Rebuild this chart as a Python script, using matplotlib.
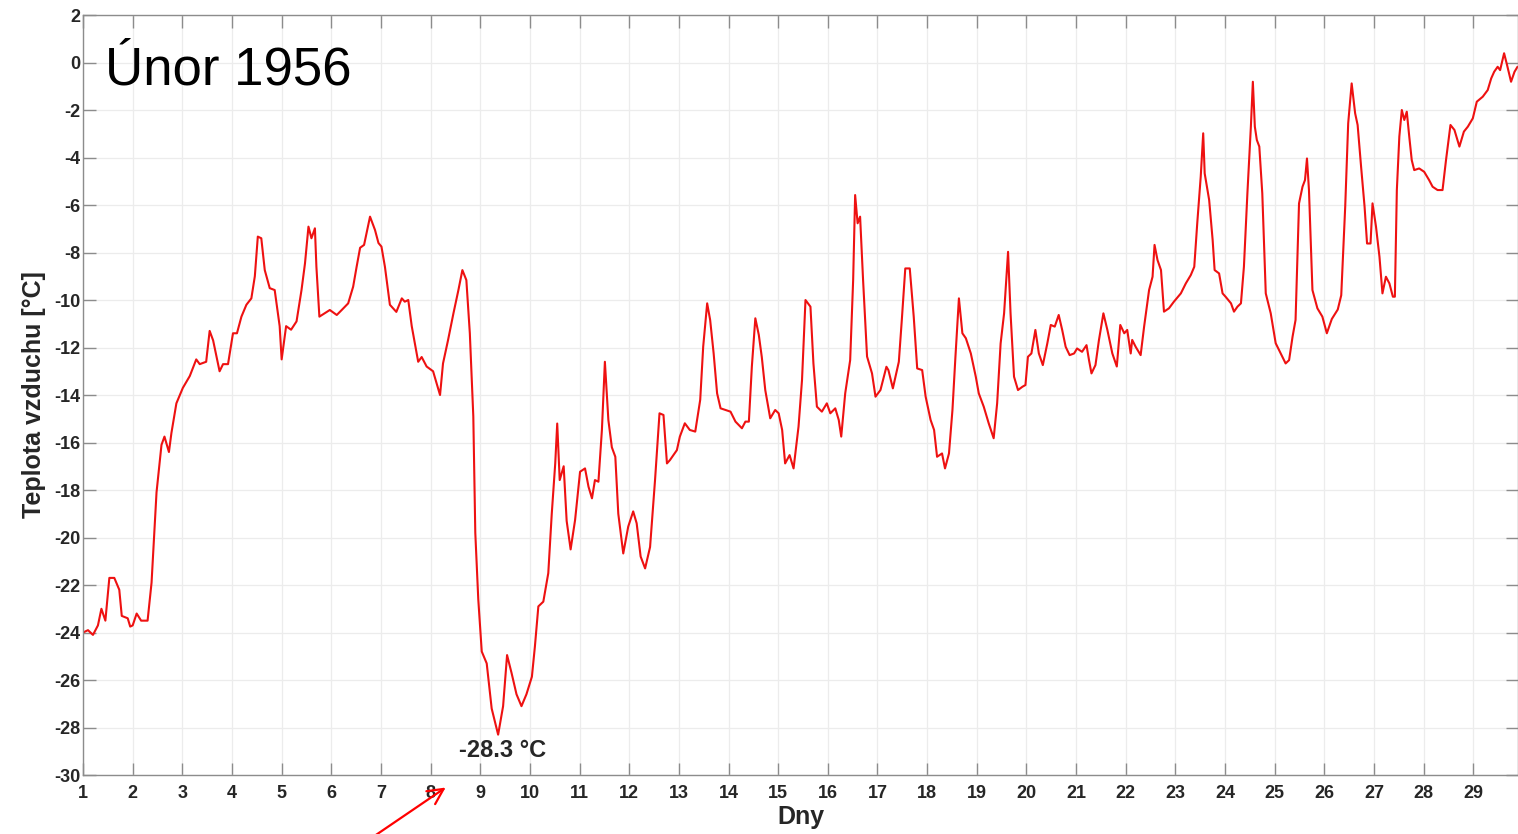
import matplotlib
matplotlib.use("Agg")
import matplotlib.pyplot as plt
import numpy as np

plt.rcParams["font.family"] = ["Liberation Sans", "DejaVu Sans"]
plt.rcParams["axes.unicode_minus"] = False

# hourly-ish trace (day of month, air temperature in degC)
day = [
    1.00, 1.10, 1.20, 1.30, 1.37, 1.45, 1.53, 1.63, 1.73, 1.78, 1.90, 1.95, 2.00, 2.08, 2.17, 2.30,
    2.38, 2.48, 2.58, 2.64, 2.73, 2.78, 2.88, 3.01, 3.15, 3.28, 3.35, 3.48, 3.55, 3.62, 3.75, 3.82,
    3.92, 4.02, 4.10, 4.19, 4.29, 4.39, 4.46, 4.52, 4.59, 4.66, 4.76, 4.86, 4.96, 5.00, 5.09, 5.19,
    5.30, 5.40, 5.47, 5.54, 5.60, 5.67, 5.70, 5.76, 5.97, 6.11, 6.21, 6.34, 6.44, 6.51, 6.58, 6.66,
    6.78, 6.88, 6.95, 7.01, 7.08, 7.18, 7.31, 7.42, 7.48, 7.55, 7.62, 7.75, 7.82, 7.92, 8.05, 8.12,
    8.19, 8.25, 8.35, 8.46, 8.56, 8.64, 8.72, 8.79, 8.86, 8.90, 8.96, 9.03, 9.13, 9.23, 9.36, 9.46,
    9.54, 9.63, 9.73, 9.83, 9.93, 10.04, 10.10, 10.17, 10.27, 10.37, 10.44, 10.51, 10.55, 10.60, 10.68, 10.74,
    10.82, 10.91, 11.01, 11.11, 11.18, 11.25, 11.31, 11.38, 11.45, 11.51, 11.58, 11.65, 11.72, 11.78, 11.88, 11.98,
    12.08, 12.15, 12.23, 12.32, 12.42, 12.52, 12.61, 12.69, 12.76, 12.82, 12.96, 13.02, 13.12, 13.22, 13.33, 13.43,
    13.49, 13.57, 13.63, 13.70, 13.77, 13.84, 13.94, 14.04, 14.14, 14.27, 14.34, 14.41, 14.47, 14.54, 14.61, 14.67,
    14.74, 14.84, 14.94, 15.01, 15.08, 15.14, 15.23, 15.31, 15.41, 15.48, 15.55, 15.65, 15.71, 15.78, 15.88, 15.98,
    16.05, 16.15, 16.22, 16.27, 16.35, 16.45, 16.51, 16.55, 16.60, 16.65, 16.71, 16.79, 16.89, 16.96, 17.06, 17.18,
    17.22, 17.31, 17.43, 17.49, 17.56, 17.65, 17.73, 17.80, 17.90, 17.97, 18.07, 18.14, 18.20, 18.30, 18.36, 18.44,
    18.51, 18.57, 18.64, 18.71, 18.78, 18.88, 18.98, 19.04, 19.14, 19.24, 19.34, 19.41, 19.48, 19.55, 19.63, 19.68,
    19.75, 19.83, 19.92, 19.98, 20.03, 20.10, 20.18, 20.25, 20.33, 20.42, 20.49, 20.57, 20.65, 20.72, 20.79, 20.87,
    20.96, 21.02, 21.12, 21.21, 21.26, 21.31, 21.39, 21.46, 21.55, 21.63, 21.73, 21.82, 21.89, 21.97, 22.03, 22.10,
    22.13, 22.20, 22.30, 22.37, 22.47, 22.54, 22.58, 22.64, 22.71, 22.77, 22.87, 22.97, 23.11, 23.21, 23.31, 23.38,
    23.44, 23.51, 23.56, 23.59, 23.68, 23.75, 23.79, 23.88, 23.95, 24.01, 24.12, 24.18, 24.25, 24.32, 24.38, 24.45,
    24.52, 24.56, 24.60, 24.64, 24.69, 24.75, 24.82, 24.92, 25.02, 25.12, 25.22, 25.29, 25.36, 25.42, 25.49, 25.56,
    25.61, 25.65, 25.69, 25.76, 25.86, 25.96, 26.05, 26.15, 26.27, 26.34, 26.42, 26.48, 26.55, 26.62, 26.67, 26.74,
    26.81, 26.86, 26.93, 26.97, 27.04, 27.11, 27.17, 27.24, 27.31, 27.38, 27.42, 27.46, 27.51, 27.56, 27.61, 27.66,
    27.71, 27.76, 27.81, 27.91, 28.01, 28.11, 28.18, 28.28, 28.38, 28.45, 28.54, 28.62, 28.72, 28.81, 28.89, 28.99,
    29.07, 29.19, 29.29, 29.36, 29.42, 29.49, 29.54, 29.62, 29.68, 29.76, 29.83, 29.89, 29.95,
]
temp_c = [
    -24.0, -23.9, -24.1, -23.7, -23.0, -23.5, -21.7, -21.7, -22.2, -23.3, -23.4, -23.75, -23.7, -23.2, -23.5, -23.5,
    -21.9, -18.1, -16.1, -15.75, -16.4, -15.6, -14.35, -13.7, -13.2, -12.5, -12.7, -12.6, -11.3, -11.7, -13.0, -12.7,
    -12.7, -11.4, -11.4, -10.7, -10.2, -9.93, -9.0, -7.33, -7.4, -8.74, -9.5, -9.58, -11.1, -12.5, -11.1, -11.25,
    -10.9, -9.58, -8.46, -6.91, -7.4, -6.98, -8.6, -10.7, -10.42, -10.63, -10.42, -10.14, -9.44, -8.6, -7.8, -7.68,
    -6.49, -7.05, -7.6, -7.75, -8.6, -10.2, -10.5, -9.93, -10.07, -10.0, -11.1, -12.6, -12.4, -12.8, -13.0, -13.5,
    -14.0, -12.67, -11.7, -10.56, -9.58, -8.74, -9.16, -11.4, -14.9, -19.8, -22.6, -24.8, -25.3, -27.2, -28.3, -27.1,
    -24.95, -25.7, -26.6, -27.1, -26.6, -25.86, -24.6, -22.9, -22.7, -21.5, -19.0, -16.88, -15.2, -17.58, -17.0, -19.3,
    -20.5, -19.26, -17.23, -17.09, -17.86, -18.35, -17.58, -17.65, -15.47, -12.6, -15.05, -16.2, -16.6, -19.0, -20.67, -19.54,
    -18.9, -19.4, -20.8, -21.3, -20.4, -17.58, -14.77, -14.84, -16.88, -16.74, -16.32, -15.75, -15.19, -15.47, -15.54, -14.2,
    -11.96, -10.14, -10.84, -12.24, -13.93, -14.56, -14.63, -14.7, -15.12, -15.4, -15.12, -15.12, -12.8, -10.77, -11.47, -12.4,
    -13.79, -14.98, -14.63, -14.77, -15.47, -16.88, -16.53, -17.09, -15.33, -13.37, -10.0, -10.28, -12.67, -14.49, -14.7, -14.35,
    -14.77, -14.56, -15.05, -15.75, -13.93, -12.53, -9.16, -5.58, -6.77, -6.49, -9.16, -12.38, -13.09, -14.07, -13.79, -12.81,
    -12.95, -13.72, -12.6, -10.84, -8.67, -8.67, -10.7, -12.88, -12.95, -14.07, -15.05, -15.47, -16.6, -16.46, -17.09, -16.46,
    -14.63, -12.39, -9.93, -11.4, -11.61, -12.25, -13.23, -13.93, -14.49, -15.19, -15.82, -14.35, -11.83, -10.56, -7.97, -10.56,
    -13.23, -13.79, -13.65, -13.58, -12.39, -12.25, -11.26, -12.25, -12.74, -11.83, -11.05, -11.12, -10.63, -11.26, -11.97, -12.32,
    -12.25, -12.04, -12.18, -11.9, -12.53, -13.09, -12.74, -11.69, -10.56, -11.26, -12.25, -12.8, -11.05, -11.4, -11.26, -12.25,
    -11.68, -11.97, -12.32, -11.12, -9.58, -9.02, -7.68, -8.32, -8.74, -10.49, -10.35, -10.07, -9.72, -9.3, -8.95, -8.6,
    -6.77, -4.81, -2.98, -4.67, -5.79, -7.47, -8.74, -8.88, -9.72, -9.86, -10.14, -10.49, -10.28, -10.14, -8.6, -5.51,
    -2.7, -0.81, -2.7, -3.26, -3.54, -5.51, -9.72, -10.56, -11.82, -12.25, -12.67, -12.53, -11.54, -10.84, -5.93, -5.23,
    -4.95, -4.04, -5.37, -9.58, -10.35, -10.7, -11.4, -10.8, -10.4, -9.8, -6.07, -2.56, -0.88, -2.14, -2.63, -4.39,
    -6.07, -7.62, -7.62, -5.93, -6.91, -8.18, -9.72, -9.02, -9.3, -9.86, -9.86, -5.37, -3.12, -2.0, -2.42, -2.07,
    -3.12, -4.11, -4.53, -4.46, -4.6, -4.95, -5.23, -5.37, -5.37, -4.11, -2.63, -2.84, -3.54, -2.91, -2.7, -2.35,
    -1.65, -1.44, -1.16, -0.67, -0.39, -0.18, -0.32, 0.39, -0.11, -0.81, -0.39, -0.18, -0.2,
]
x_ticks = list(range(1, 30))
y_ticks = list(range(-30, 3, 2))
min_day, min_temp = 9.45, -28.3

fig = plt.figure(figsize=(15.18, 8.34), dpi=100)
ax = fig.add_axes([0.0547, 0.0707, 0.9453, 0.9113])

ax.plot(day, temp_c, color="#ee1111", linewidth=1.5)

ax.set_xlim(1, 29.9)
ax.set_ylim(-30, 2)
ax.set_xticks(x_ticks)
ax.set_yticks(y_ticks)
ax.grid(True, color="#ececec", linewidth=0.9)
ax.set_axisbelow(True)
ax.tick_params(direction="in", length=9, width=1, color="#8c8c8c",
               top=True, right=True, labelsize=13, labelcolor="#262626")
ax.tick_params(axis="x", pad=7)
ax.tick_params(axis="y", pad=2)
for lab in ax.get_xticklabels() + ax.get_yticklabels():
    lab.set_fontweight("bold")
for sp in ax.spines.values():
    sp.set_color("#8c8c8c")
    sp.set_linewidth(1.0)

ax.set_xlabel("Dny", fontsize=18, fontweight="bold", color="#262626", labelpad=2)
ax.set_ylabel("Teplota vzduchu [°C]", fontsize=18, fontweight="bold", color="#262626", labelpad=6)

ax.text(1.45, -0.35, "Únor 1956", fontsize=38, color="black", ha="left", va="center")
ax.text(min_day, min_temp - 0.65, f"{min_temp} °C", fontsize=17, fontweight="bold",
        color="#262626", ha="center", va="center")

# red pointer arrow below the axis
ax.annotate("", xy=(0.2951, 0.0576), xytext=(0.2405, -0.01),
            xycoords="figure fraction", textcoords="figure fraction",
            arrowprops=dict(arrowstyle="->", color="red", lw=1.6, mutation_scale=28))

fig.savefig("out.png", dpi=100)
